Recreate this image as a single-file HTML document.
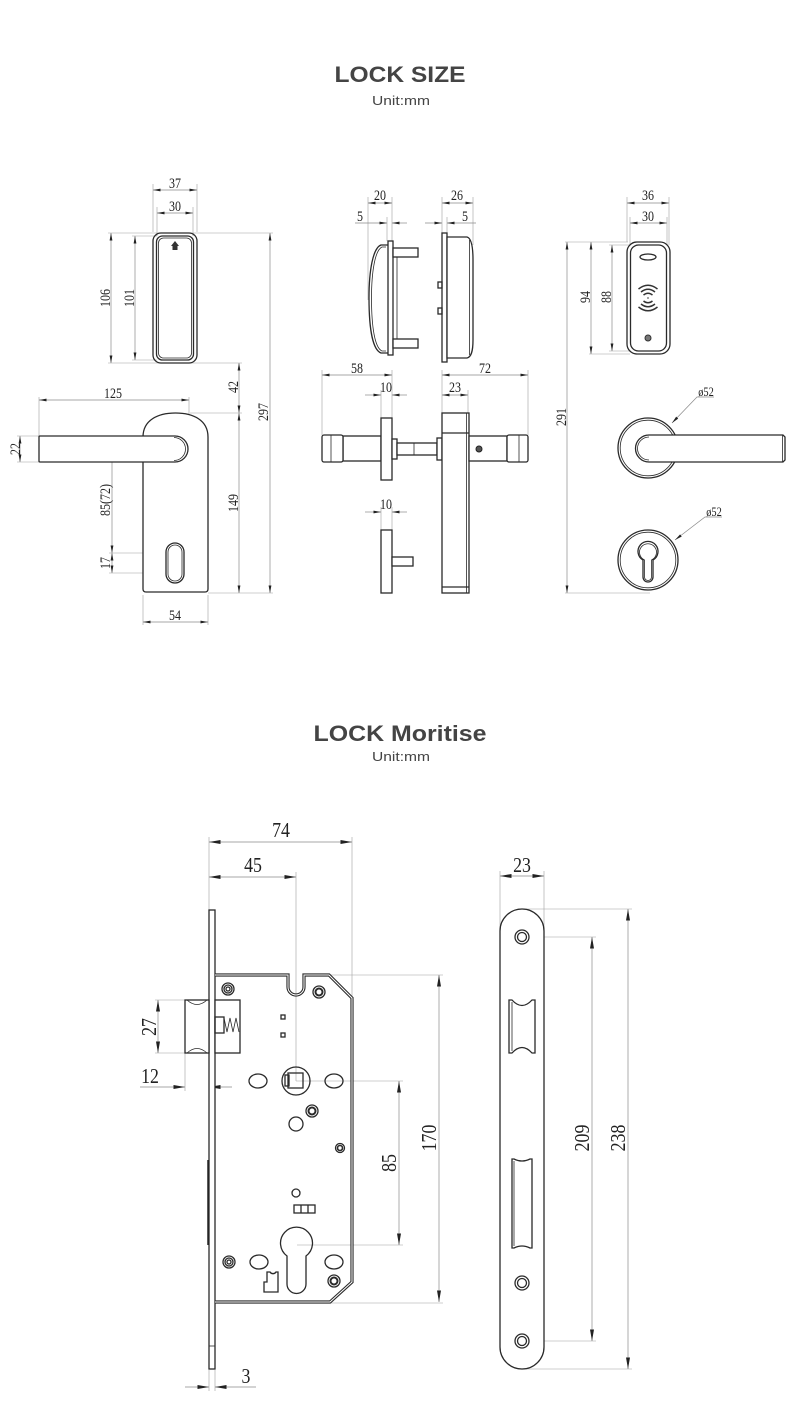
<!DOCTYPE html>
<html>
<head>
<meta charset="utf-8">
<style>
html,body{margin:0;padding:0;background:#fff;}
svg{display:block;}
.o{fill:none;stroke:#2a2a2a;stroke-width:1.3;}
.w{fill:#fff;stroke:#2a2a2a;stroke-width:1.3;}
.th{fill:none;stroke:#2a2a2a;stroke-width:0.8;}
.d{stroke:#8a8a8a;stroke-width:0.7;fill:none;}
.e{stroke:#a0a0a0;stroke-width:0.6;fill:none;}
.t{font-family:"Liberation Serif",serif;font-size:15px;fill:#222;text-anchor:middle;}
.T{font-family:"Liberation Serif",serif;font-size:21px;fill:#222;text-anchor:middle;}
.s{font-family:"Liberation Serif",serif;font-size:13px;fill:#222;text-anchor:middle;}
.h{font-family:"Liberation Sans",sans-serif;font-weight:bold;fill:#444;text-anchor:middle;}
.u{font-family:"Liberation Sans",sans-serif;fill:#444;text-anchor:middle;font-size:13px;}
</style>
</head>
<body>
<svg width="800" height="1423" viewBox="0 0 800 1423" xmlns="http://www.w3.org/2000/svg">
<defs>
<marker id="s" markerUnits="userSpaceOnUse" viewBox="0 0 8 4" markerWidth="8" markerHeight="4" refX="7.5" refY="2" orient="auto-start-reverse"><path d="M0,0.6 L7.5,2 L0,3.4z" fill="#222"/></marker>
<marker id="L" markerUnits="userSpaceOnUse" viewBox="0 0 12 6" markerWidth="12" markerHeight="6" refX="11.5" refY="3" orient="auto-start-reverse"><path d="M0,1 L11.5,3 L0,5z" fill="#222"/></marker>
</defs>
<rect width="800" height="1423" fill="#fff"/>

<!-- Titles -->
<text class="h" x="400" y="82" font-size="22" textLength="131" lengthAdjust="spacingAndGlyphs">LOCK SIZE</text>
<text class="u" x="401" y="105" textLength="58" lengthAdjust="spacingAndGlyphs">Unit:mm</text>
<text class="h" x="400" y="741" font-size="22" textLength="173" lengthAdjust="spacingAndGlyphs">LOCK Moritise</text>
<text class="u" x="401" y="761" textLength="58" lengthAdjust="spacingAndGlyphs">Unit:mm</text>

<!-- ================= TOP LEFT ================= -->
<!-- extension lines -->
<g class="e">
<line x1="153" y1="184" x2="153" y2="232"/><line x1="197" y1="184" x2="197" y2="232"/>
<line x1="157" y1="207" x2="157" y2="236"/><line x1="193" y1="207" x2="193" y2="236"/>
<line x1="108" y1="233" x2="273" y2="233"/><line x1="108" y1="363" x2="242" y2="363"/>
<line x1="132" y1="236" x2="157" y2="236"/><line x1="132" y1="360" x2="157" y2="360"/>
<line x1="190" y1="413" x2="242" y2="413"/><line x1="208" y1="593" x2="273" y2="593"/>
<line x1="39" y1="397" x2="39" y2="436"/><line x1="189" y1="397" x2="189" y2="423"/>
<line x1="17" y1="436" x2="39" y2="436"/><line x1="17" y1="462" x2="39" y2="462"/>
<line x1="109" y1="450" x2="175" y2="450"/>
<line x1="109" y1="553" x2="175" y2="553"/><line x1="109" y1="573" x2="175" y2="573"/>
<line x1="143" y1="595" x2="143" y2="625"/><line x1="208" y1="595" x2="208" y2="625"/>
</g>
<g class="d">
<line x1="153" y1="190" x2="197" y2="190" marker-start="url(#s)" marker-end="url(#s)"/>
<line x1="157" y1="213" x2="193" y2="213" marker-start="url(#s)" marker-end="url(#s)"/>
<line x1="111" y1="233" x2="111" y2="363" marker-start="url(#s)" marker-end="url(#s)"/>
<line x1="135" y1="236" x2="135" y2="360" marker-start="url(#s)" marker-end="url(#s)"/>
<line x1="270" y1="233" x2="270" y2="593" marker-start="url(#s)" marker-end="url(#s)"/>
<line x1="239" y1="363" x2="239" y2="413" marker-start="url(#s)" marker-end="url(#s)"/>
<line x1="239" y1="413" x2="239" y2="593" marker-start="url(#s)" marker-end="url(#s)"/>
<line x1="39" y1="400" x2="189" y2="400" marker-start="url(#s)" marker-end="url(#s)"/>
<line x1="20" y1="436" x2="20" y2="462" marker-start="url(#s)" marker-end="url(#s)"/>
<line x1="112" y1="450" x2="112" y2="553" marker-start="url(#s)" marker-end="url(#s)"/>
<line x1="112" y1="553" x2="112" y2="573" marker-start="url(#s)" marker-end="url(#s)"/>
<line x1="143" y1="622" x2="208" y2="622" marker-start="url(#s)" marker-end="url(#s)"/>
</g>
<!-- reader plate -->
<rect class="o" x="153" y="233" width="44" height="130" rx="8" stroke-width="1.6"/>
<rect class="o" x="156.5" y="236" width="37" height="124" rx="6"/>
<rect class="th" x="158.5" y="238" width="33" height="120" rx="5"/>
<path d="M171,246 L175,241 L179,246 Z" fill="#333"/>
<rect x="172.5" y="246" width="5" height="4" fill="#333"/>
<!-- back plate -->
<path class="w" stroke-width="1.6" d="M143,589 L143,437 C143,420 158,413 175.5,413 C193,413 208,420 208,437 L208,589 Q208,592 205,592 L146,592 Q143,592 143,589 Z"/>
<!-- lever -->
<path class="w" stroke-width="1.6" d="M40,436 L175,436 A13,13 0 0 1 175,462 L40,462 Q39,462 39,461 L39,437 Q39,436 40,436 Z"/>
<path class="th" d="M174,437.5 A11.5,11.5 0 0 1 174,460.5"/>
<!-- keyhole slot -->
<rect class="o" x="166" y="543" width="18" height="40" rx="9"/>
<rect class="th" x="168" y="545" width="14" height="36" rx="7"/>
<!-- texts -->
<text class="t" transform="translate(175,188) scale(.8,1)">37</text>
<text class="t" transform="translate(175,211) scale(.8,1)">30</text>
<text class="t" transform="translate(110,298) rotate(-90) scale(.8,1)">106</text>
<text class="t" transform="translate(134,298) rotate(-90) scale(.8,1)">101</text>
<text class="t" transform="translate(238,387) rotate(-90) scale(.8,1)">42</text>
<text class="t" transform="translate(268,412) rotate(-90) scale(.8,1)">297</text>
<text class="t" transform="translate(238,503) rotate(-90) scale(.8,1)">149</text>
<text class="t" transform="translate(113,398) scale(.8,1)">125</text>
<text class="t" transform="translate(20,449) rotate(-90) scale(.8,1)">22</text>
<text class="t" transform="translate(110,500) rotate(-90) scale(.8,1)">85(72)</text>
<text class="t" transform="translate(110,563) rotate(-90) scale(.8,1)">17</text>
<text class="t" transform="translate(175,620) scale(.8,1)">54</text>

<!-- ================= MIDDLE ================= -->
<g class="e">
<line x1="368" y1="197" x2="368" y2="300"/><line x1="392" y1="197" x2="392" y2="241"/>
<line x1="387" y1="217" x2="387" y2="241"/>
<line x1="442" y1="197" x2="442" y2="233"/><line x1="473" y1="197" x2="473" y2="245"/>
<line x1="447" y1="217" x2="447" y2="237"/>
<line x1="322" y1="370" x2="322" y2="435"/><line x1="392" y1="370" x2="392" y2="418"/>
<line x1="381" y1="390" x2="381" y2="418"/>
<line x1="442" y1="370" x2="442" y2="413"/><line x1="468" y1="390" x2="468" y2="413"/>
<line x1="528" y1="370" x2="528" y2="435"/>
<line x1="381" y1="507" x2="381" y2="530"/><line x1="392" y1="507" x2="392" y2="530"/>
</g>
<g class="d">
<line x1="368" y1="203" x2="392" y2="203" marker-start="url(#s)" marker-end="url(#s)"/>
<line x1="355" y1="223" x2="387" y2="223" marker-end="url(#s)"/>
<line x1="407" y1="223" x2="392" y2="223" marker-end="url(#s)"/>
<line x1="442" y1="203" x2="473" y2="203" marker-start="url(#s)" marker-end="url(#s)"/>
<line x1="425" y1="223" x2="442" y2="223" marker-end="url(#s)"/>
<line x1="476" y1="223" x2="447" y2="223" marker-end="url(#s)"/>
<line x1="322" y1="375" x2="392" y2="375" marker-start="url(#s)" marker-end="url(#s)"/>
<line x1="365" y1="395" x2="381" y2="395" marker-end="url(#s)"/>
<line x1="407" y1="395" x2="392" y2="395" marker-end="url(#s)"/>
<line x1="442" y1="395" x2="468" y2="395" marker-start="url(#s)" marker-end="url(#s)"/>
<line x1="442" y1="375" x2="528" y2="375" marker-start="url(#s)" marker-end="url(#s)"/>
<line x1="365" y1="512" x2="381" y2="512" marker-end="url(#s)"/>
<line x1="407" y1="512" x2="392" y2="512" marker-end="url(#s)"/>
</g>
<!-- side view left -->
<path class="o" d="M388,245 L381,245 C373,248 369,270 369,298 C369,330 373,350 381,353 L388,353"/>
<path class="th" d="M386,247 L382,247 C375,250 371.5,272 371.5,298 C371.5,328 375,348 382,351 L386,351"/>
<rect class="w" x="388" y="241" width="5" height="114"/>
<rect class="th" x="393" y="257" width="4" height="84"/>
<rect class="w" x="393" y="248" width="25" height="9"/>
<rect class="w" x="393" y="339" width="25" height="9"/>
<!-- side view right -->
<rect class="w" x="442" y="233" width="5" height="129"/>
<path class="w" d="M447,237 L467,237 C471,238 473,245 473,260 L473,340 C473,352 471,357 467,358 L447,358 Z"/>
<line class="th" x1="469.5" y1="240" x2="469.5" y2="355"/>
<rect class="o" x="438" y="282" width="4" height="6"/>
<rect class="o" x="438" y="308" width="4" height="6"/>
<!-- lower middle: lever side -->
<rect class="w" x="343" y="436" width="38" height="25"/>
<rect class="w" x="322" y="435" width="21" height="27" rx="2"/>
<line class="th" x1="331" y1="435.5" x2="331" y2="461.5"/>
<rect class="w" x="381" y="418" width="11" height="62"/>
<rect class="w" x="392" y="439" width="5" height="20"/>
<rect class="w" x="397" y="443" width="40" height="12"/>
<line class="th" x1="414" y1="443" x2="414" y2="455"/>
<rect class="w" x="437" y="438" width="5" height="22"/>
<rect class="w" x="442" y="413" width="27" height="180"/>
<line class="o" x1="442" y1="433" x2="469" y2="433"/>
<line class="o" x1="442" y1="587" x2="469" y2="587"/>
<line class="th" x1="466.5" y1="413" x2="466.5" y2="593"/>
<rect class="w" x="469" y="436" width="38" height="25"/>
<rect class="w" x="507" y="435" width="21" height="27" rx="2"/>
<line class="th" x1="519" y1="435.5" x2="519" y2="461.5"/>
<circle cx="479" cy="449" r="3" fill="#555" stroke="#222" stroke-width="1"/>
<!-- lower rose -->
<rect class="w" x="381" y="530" width="11" height="63"/>
<rect class="w" x="392" y="557" width="21" height="9"/>
<!-- texts -->
<text class="t" transform="translate(380,200) scale(.8,1)">20</text>
<text class="t" transform="translate(360,221) scale(.8,1)">5</text>
<text class="t" transform="translate(457,200) scale(.8,1)">26</text>
<text class="t" transform="translate(465,221) scale(.8,1)">5</text>
<text class="t" transform="translate(357,373) scale(.8,1)">58</text>
<text class="t" transform="translate(386,392) scale(.8,1)">10</text>
<text class="t" transform="translate(455,392) scale(.8,1)">23</text>
<text class="t" transform="translate(485,373) scale(.8,1)">72</text>
<text class="t" transform="translate(386,509) scale(.8,1)">10</text>

<!-- ================= RIGHT ================= -->
<g class="e">
<line x1="627" y1="197" x2="627" y2="242"/><line x1="669" y1="197" x2="669" y2="245"/>
<line x1="630" y1="217" x2="630" y2="245"/><line x1="667" y1="217" x2="667" y2="245"/>
<line x1="565" y1="242" x2="628" y2="242"/><line x1="589" y1="354" x2="630" y2="354"/>
<line x1="609" y1="245" x2="631" y2="245"/><line x1="609" y1="351" x2="631" y2="351"/>
<line x1="565" y1="593" x2="650" y2="593"/>
</g>
<g class="d">
<line x1="627" y1="203" x2="669" y2="203" marker-start="url(#s)" marker-end="url(#s)"/>
<line x1="630" y1="223" x2="667" y2="223" marker-start="url(#s)" marker-end="url(#s)"/>
<line x1="591" y1="242" x2="591" y2="354" marker-start="url(#s)" marker-end="url(#s)"/>
<line x1="612" y1="245" x2="612" y2="351" marker-start="url(#s)" marker-end="url(#s)"/>
<line x1="567" y1="242" x2="567" y2="593" marker-start="url(#s)" marker-end="url(#s)"/>
<polyline points="672,423 697,397 714,397" marker-start="url(#s)"/>
<polyline points="675,540 705,517 722,517" marker-start="url(#s)"/>
</g>
<rect class="o" x="627" y="242" width="43" height="112" rx="10" stroke-width="1.6"/>
<rect class="o" x="630.5" y="245" width="36" height="106" rx="8"/>
<ellipse class="o" cx="648" cy="257" rx="8" ry="3"/>
<g fill="none" stroke="#333" stroke-width="1.5">
<path d="M643.5,295 Q648,291.5 652.5,295"/>
<path d="M641,292 Q648,286.5 655,292"/>
<path d="M638.5,289 Q648,281.5 657.5,289"/>
<path d="M643.5,301 Q648,304.5 652.5,301"/>
<path d="M641,304 Q648,309.5 655,304"/>
<path d="M638.5,307 Q648,314.5 657.5,307"/>
</g>
<circle cx="648" cy="298" r="1" fill="#888"/>
<circle cx="648" cy="338" r="3" fill="#777" stroke="#333" stroke-width="1"/>
<!-- rose + lever -->
<circle class="o" cx="648" cy="448" r="30"/>
<circle class="th" cx="648" cy="448" r="27.8"/>
<path class="w" d="M649,435 L783,435 L785,437 L785,460 L783,462 L649,462 A13.5,13.5 0 0 1 649,435 Z"/>
<path class="th" d="M649,437 A11.5,11.5 0 0 0 649,460"/>
<line class="th" x1="782.5" y1="435" x2="782.5" y2="462"/>
<!-- key rose -->
<circle class="o" cx="648" cy="560" r="30"/>
<circle class="th" cx="648" cy="560" r="27.8"/>
<path class="o" d="M643,560 A10,10 0 1 1 653,560 L653,577 A5,5 0 0 1 643,577 Z"/>
<path class="th" d="M644.5,560 A8.5,8.5 0 1 1 651.5,560 L651.5,577 A3.5,3.5 0 0 1 644.5,577 Z"/>
<text class="t" transform="translate(648,200) scale(.8,1)">36</text>
<text class="t" transform="translate(648,221) scale(.8,1)">30</text>
<text class="t" transform="translate(590,297) rotate(-90) scale(.8,1)">94</text>
<text class="t" transform="translate(611,297) rotate(-90) scale(.8,1)">88</text>
<text class="t" transform="translate(566,417) rotate(-90) scale(.8,1)">291</text>
<text class="s" transform="translate(706,396) scale(.8,1)">ø52</text>
<text class="s" transform="translate(714,516) scale(.8,1)">ø52</text>

<!-- ================= MORTISE ================= -->
<g class="e" stroke-width="0.7">
<line x1="209" y1="837" x2="209" y2="910"/>
<line x1="352" y1="837" x2="352" y2="998"/>
<line x1="296" y1="872" x2="296" y2="1081"/>
<line x1="330" y1="975" x2="443" y2="975"/>
<line x1="330" y1="1303" x2="443" y2="1303"/>
<line x1="296" y1="1081" x2="403" y2="1081"/>
<line x1="297" y1="1245" x2="403" y2="1245"/>
<line x1="155" y1="1000" x2="185" y2="1000"/>
<line x1="155" y1="1053" x2="185" y2="1053"/>
<line x1="185" y1="1053" x2="185" y2="1091"/>
<line x1="209" y1="1370" x2="209" y2="1391"/>
<line x1="215" y1="1370" x2="215" y2="1391"/>
<line x1="500" y1="871" x2="500" y2="931"/>
<line x1="544" y1="871" x2="544" y2="931"/>
<line x1="522" y1="909" x2="632" y2="909"/>
<line x1="529" y1="937" x2="596" y2="937"/>
<line x1="529" y1="1341" x2="596" y2="1341"/>
<line x1="522" y1="1369" x2="632" y2="1369"/>
</g>
<g class="d" stroke-width="0.8">
<line x1="209" y1="842" x2="352" y2="842" marker-start="url(#L)" marker-end="url(#L)"/>
<line x1="209" y1="877" x2="296" y2="877" marker-start="url(#L)" marker-end="url(#L)"/>
<line x1="158" y1="1000" x2="158" y2="1053" marker-start="url(#L)" marker-end="url(#L)"/>
<line x1="140" y1="1087" x2="185" y2="1087" marker-end="url(#L)"/>
<line x1="232" y1="1087" x2="209" y2="1087" marker-end="url(#L)"/>
<line x1="399" y1="1081" x2="399" y2="1245" marker-start="url(#L)" marker-end="url(#L)"/>
<line x1="439" y1="975" x2="439" y2="1302" marker-start="url(#L)" marker-end="url(#L)"/>
<line x1="185" y1="1387" x2="209" y2="1387" marker-end="url(#L)"/>
<line x1="256" y1="1387" x2="215" y2="1387" marker-end="url(#L)"/>
<line x1="500" y1="876" x2="544" y2="876" marker-start="url(#L)" marker-end="url(#L)"/>
<line x1="592" y1="937" x2="592" y2="1341" marker-start="url(#L)" marker-end="url(#L)"/>
<line x1="628" y1="909" x2="628" y2="1369" marker-start="url(#L)" marker-end="url(#L)"/>
</g>
<!-- faceplate -->
<rect class="w" x="209" y="910" width="6" height="459"/>
<line x1="208" y1="1160" x2="208" y2="1245" stroke="#222" stroke-width="1.5"/>
<line class="th" x1="209" y1="1346" x2="215" y2="1346"/>
<!-- case (double line) -->
<path d="M215,975 L288,975 L288,987 A8,8 0 0 0 304,987 L304,975 L329,975 L352,998 L352,1282 L330,1302 L215,1302" fill="none" stroke="#2a2a2a" stroke-width="3.2"/>
<path d="M215,975 L288,975 L288,987 A8,8 0 0 0 304,987 L304,975 L329,975 L352,998 L352,1282 L330,1302 L215,1302" fill="none" stroke="#fff" stroke-width="1"/>
<!-- latch bolt -->
<rect class="w" x="185" y="1000" width="24" height="53"/>
<path class="th" d="M187,1000 Q197,1009 207,1000 M187,1053 Q197,1044 207,1053"/>
<rect class="w" x="215" y="1000" width="25" height="53"/>
<rect class="o" x="215" y="1017" width="9" height="16"/>
<polyline class="th" points="224,1018 227,1032 230,1018 233,1032 236,1018 239,1032"/>
<rect class="o" x="281" y="1015" width="4" height="4"/>
<rect class="o" x="281" y="1033" width="4" height="4"/>
<!-- screws -->
<g class="o">
<circle cx="228" cy="989" r="6"/><circle cx="228" cy="989" r="4"/><circle cx="228" cy="989" r="2"/>
<circle cx="319" cy="992" r="6"/><circle cx="319" cy="992" r="3.5" stroke-width="2"/>
<circle cx="312" cy="1111" r="6"/><circle cx="312" cy="1111" r="3.5" stroke-width="2"/>
<circle cx="340" cy="1148" r="4.5"/><circle cx="340" cy="1148" r="2.5" stroke-width="1.6"/>
<circle cx="229" cy="1262" r="6"/><circle cx="229" cy="1262" r="4"/><circle cx="229" cy="1262" r="2"/>
<circle cx="334" cy="1281" r="6"/><circle cx="334" cy="1281" r="3.5" stroke-width="2"/>
</g>
<!-- follower -->
<circle class="o" cx="296" cy="1081" r="14"/>
<rect class="o" x="288" y="1073" width="15" height="15"/>
<rect class="o" x="285" y="1075" width="4" height="11"/>
<ellipse class="o" cx="258" cy="1081" rx="9" ry="7"/>
<ellipse class="o" cx="334" cy="1081" rx="9" ry="7"/>
<circle class="o" cx="296" cy="1124" r="7"/>
<circle class="o" cx="296" cy="1193" r="4" stroke-width="1.6"/>
<rect class="o" x="294" y="1205" width="21" height="8"/>
<line class="o" x1="301" y1="1205" x2="301" y2="1213"/>
<line class="o" x1="308" y1="1205" x2="308" y2="1213"/>
<!-- euro cylinder -->
<path class="o" d="M287,1256 A16,16 0 1 1 306,1256 L306,1284 A9.5,9.5 0 0 1 287,1284 Z"/>
<ellipse class="o" cx="259" cy="1262" rx="9" ry="7"/>
<ellipse class="o" cx="334" cy="1262" rx="9" ry="7"/>
<path class="o" d="M264,1292 L264,1282 L267,1282 L267,1272 L270,1272 A3.5,3.5 0 0 0 276,1272 L278,1272 L278,1292 Z"/>
<!-- strike plate -->
<path class="w" d="M500,1347 L500,931 A22,22 0 0 1 544,931 L544,1347 A22,22 0 0 1 500,1347 Z"/>
<g class="o">
<circle cx="522" cy="937" r="7"/><circle cx="522" cy="937" r="4.5"/>
<circle cx="522" cy="1283" r="7"/><circle cx="522" cy="1283" r="4.5"/>
<circle cx="522" cy="1341" r="7"/><circle cx="522" cy="1341" r="4.5"/>
</g>
<path class="o" d="M509,1000 L512,1000 Q522,1011 532,1000 L535,1000 L535,1053 L532,1053 Q522,1042 512,1053 L509,1053 Z"/>
<line class="th" x1="512" y1="1002" x2="512" y2="1051"/>
<path class="o" d="M512,1159 L514,1159 Q522,1163 530,1159 L532,1159 L532,1248 L530,1248 Q522,1244 514,1248 L512,1248 Z"/>
<line class="th" x1="514" y1="1161" x2="514" y2="1246"/>
<!-- mortise texts -->
<text class="T" transform="translate(281,837) scale(.85,1)">74</text>
<text class="T" transform="translate(253,872) scale(.85,1)">45</text>
<text class="T" transform="translate(156,1027) rotate(-90) scale(.85,1)">27</text>
<text class="T" transform="translate(150,1083) scale(.85,1)">12</text>
<text class="T" transform="translate(396,1163) rotate(-90) scale(.85,1)">85</text>
<text class="T" transform="translate(436,1138) rotate(-90) scale(.85,1)">170</text>
<text class="T" transform="translate(246,1383) scale(.85,1)">3</text>
<text class="T" transform="translate(522,872) scale(.85,1)">23</text>
<text class="T" transform="translate(589,1138) rotate(-90) scale(.85,1)">209</text>
<text class="T" transform="translate(625,1138) rotate(-90) scale(.85,1)">238</text>
</svg>
</body>
</html>
